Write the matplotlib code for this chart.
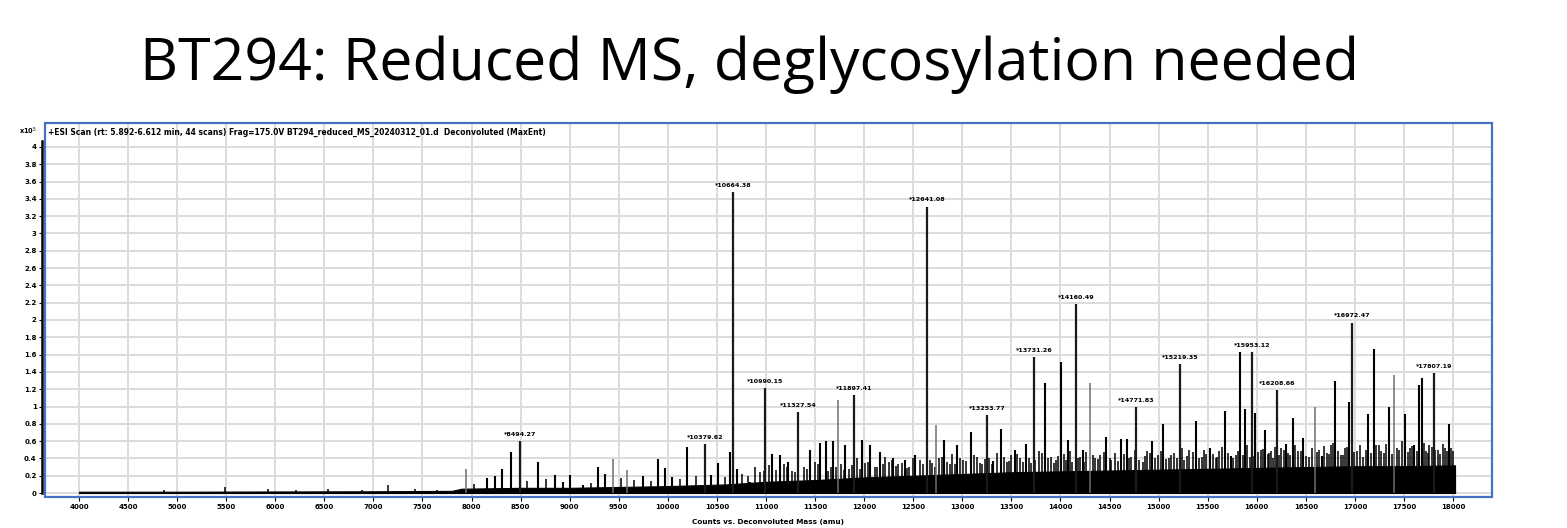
import matplotlib
matplotlib.use("Agg")
import matplotlib.pyplot as plt
from matplotlib.patches import Rectangle

# ---- data (deconvoluted mass in amu, counts x10^5) ----
label_mass = [8494.27, 10379.62, 10664.38, 10990.15, 11327.54, 11897.41, 12641.08,
              13253.77, 13731.26, 14160.49, 14771.83, 15219.35, 15953.12, 16208.66,
              16972.47, 17807.19]
label_int = [0.60, 0.57, 3.48, 1.21, 0.94, 1.13, 3.31,
             0.90, 1.57, 2.18, 0.99, 1.49, 1.63, 1.19,
             1.97, 1.39]

peak_mass = [8158, 8239, 8310, 8402, 8677, 8850, 8932, 9003, 9136, 9289, 9360, 9747,
             9900, 9971, 10043, 10196, 10440, 10511, 10634, 10705, 10837, 11062, 11143,
             11225, 11449, 11551, 11612, 11683, 11805, 11979, 12060, 12162, 12295, 12417,
             12519, 12814, 12947, 13090, 13314, 13395, 13538, 13650, 13844, 14007, 14078,
             14231, 14465, 14618, 14679, 14934, 15046, 15382, 15525, 15678, 15739, 15831,
             15882, 15983, 16085, 16299, 16371, 16473, 16666, 16799, 16941, 17135, 17196,
             17349, 17512, 17604, 17655, 17685, 17960]
peak_int = [0.17, 0.20, 0.28, 0.47, 0.36, 0.21, 0.13, 0.21, 0.09, 0.30, 0.22, 0.20,
            0.39, 0.29, 0.18, 0.53, 0.21, 0.35, 0.47, 0.28, 0.13, 0.45, 0.44,
            0.36, 0.50, 0.58, 0.60, 0.60, 0.55, 0.61, 0.55, 0.47, 0.40, 0.38,
            0.44, 0.61, 0.55, 0.71, 0.37, 0.74, 0.50, 0.57, 1.27, 1.51, 0.61,
            0.50, 0.65, 0.62, 0.62, 0.60, 0.80, 0.83, 0.52, 0.95, 0.43, 1.63,
            0.97, 0.92, 0.73, 0.57, 0.87, 0.64, 0.43, 1.29, 1.05, 0.91, 1.66,
            0.99, 0.91, 0.55, 1.25, 1.33, 0.80]

# thinner, lighter sticks
light_mass = [7944, 9441, 9584, 11734, 12733, 14302, 16595, 17400]
light_int = [0.28, 0.39, 0.27, 1.08, 0.79, 1.27, 0.99, 1.36]

# small sticks in the noise forest
minor_mass = [5488, 5926, 6537, 7149, 4870, 6210, 6880, 7420, 7650,
              8020, 8560, 8760, 9220, 9520, 9660, 9830, 10120, 10290, 10580,
              10760, 10890, 10940, 11030, 11100, 11180, 11270, 11390, 11500, 11660,
              11760, 11850, 11930, 12010, 12110, 12210, 12250, 12350, 12460, 12570,
              12690, 12760, 12870, 12900, 13010, 13150, 13200, 13270, 13350, 13460,
              13500, 13590, 13700, 13780, 13900, 13950, 14040, 14120, 14200, 14260,
              14350, 14400, 14520, 14560, 14720, 14840, 14880, 14990, 15110, 15160,
              15260, 15310, 15440, 15480, 15580, 15620, 15790, 15930, 16040, 16130,
              16170, 16250, 16340, 16420, 16530, 16630, 16720, 16760, 16860, 16900,
              17020, 17080, 17250, 17300, 17450, 17560, 17720, 17760, 17820, 17870,
              17920, 18000]
minor_int = [0.07, 0.05, 0.05, 0.09, 0.03, 0.04, 0.04, 0.05, 0.04,
             0.10, 0.14, 0.16, 0.12, 0.17, 0.15, 0.14, 0.16, 0.20, 0.18,
             0.22, 0.30, 0.24, 0.32, 0.27, 0.34, 0.25, 0.30, 0.36, 0.30,
             0.33, 0.28, 0.40, 0.35, 0.30, 0.42, 0.36, 0.33, 0.30, 0.38,
             0.35, 0.40, 0.33, 0.45, 0.38, 0.42, 0.34, 0.40, 0.46, 0.36,
             0.44, 0.40, 0.35, 0.48, 0.42, 0.38, 0.45, 0.36, 0.42, 0.47,
             0.40, 0.44, 0.38, 0.46, 0.42, 0.36, 0.48, 0.44, 0.40, 0.46,
             0.38, 0.50, 0.42, 0.45, 0.40, 0.48, 0.44, 0.42, 0.50, 0.46,
             0.40, 0.52, 0.44, 0.48, 0.42, 0.50, 0.46, 0.55, 0.44, 0.52,
             0.48, 0.42, 0.55, 0.46, 0.50, 0.52, 0.48, 0.56, 0.50, 0.45,
             0.52, 0.48]

forest_mass = [10820, 10980, 11060, 11210, 11300, 11420, 11530, 11630, 11710, 11790,
               11880, 11960, 12040, 12130, 12190, 12280, 12320, 12390, 12440, 12500,
               12600, 12670, 12720, 12790, 12840, 12930, 12980, 13040, 13120, 13180,
               13230, 13300, 13420, 13480, 13560, 13620, 13680, 13740, 13810, 13870,
               13930, 13980, 14060, 14100, 14180, 14240, 14330, 14380, 14440, 14500,
               14590, 14650, 14700, 14760, 14800, 14860, 14910, 14960, 15020, 15080,
               15130, 15190, 15240, 15290, 15350, 15410, 15460, 15550, 15600, 15650,
               15710, 15760, 15810, 15860, 15900, 15960, 16010, 16060, 16110, 16150,
               16190, 16230, 16280, 16320, 16390, 16450, 16500, 16560, 16610, 16690,
               16740, 16780, 16830, 16880, 16920, 16990, 17050, 17110, 17160, 17220,
               17270, 17320, 17380, 17430, 17480, 17540, 17580, 17630, 17700, 17740,
               17790, 17850, 17900, 17940, 17980]
forest_int = [0.20, 0.26, 0.22, 0.30, 0.24, 0.28, 0.33, 0.26, 0.30, 0.27,
              0.32, 0.28, 0.36, 0.30, 0.34, 0.38, 0.31, 0.35, 0.29, 0.40,
              0.34, 0.38, 0.30, 0.42, 0.36, 0.33, 0.40, 0.37, 0.44, 0.35,
              0.39, 0.33, 0.42, 0.37, 0.45, 0.36, 0.41, 0.38, 0.46, 0.40,
              0.35, 0.43, 0.38, 0.48, 0.40, 0.36, 0.44, 0.39, 0.47, 0.41,
              0.37, 0.45, 0.40, 0.50, 0.38, 0.43, 0.46, 0.41, 0.49, 0.39,
              0.44, 0.40, 0.52, 0.43, 0.47, 0.41, 0.50, 0.45, 0.42, 0.53,
              0.46, 0.41, 0.49, 0.44, 0.55, 0.43, 0.47, 0.51, 0.45, 0.48,
              0.53, 0.44, 0.50, 0.46, 0.56, 0.48, 0.43, 0.52, 0.47, 0.54,
              0.45, 0.58, 0.49, 0.44, 0.53, 0.47, 0.56, 0.50, 0.46, 0.55,
              0.48, 0.57, 0.45, 0.52, 0.60, 0.47, 0.54, 0.49, 0.58, 0.46,
              0.53, 0.50, 0.57, 0.48, 0.52]

# noise floor envelope
env_mass = [4000, 5000, 6000, 7000, 7800, 7900, 8500, 9000, 9500, 10000, 10600,
            11000, 11500, 12000, 12500, 13000, 13500, 14000, 14500, 15000, 15500,
            16000, 16500, 17000, 17500, 18020, 18021]
env_int = [0.015, 0.015, 0.018, 0.02, 0.025, 0.05, 0.06, 0.06, 0.07, 0.08, 0.10,
           0.13, 0.15, 0.18, 0.20, 0.22, 0.24, 0.25, 0.26, 0.27, 0.28,
           0.29, 0.30, 0.31, 0.31, 0.32, 0.0]

x_ticks = list(range(4000, 18001, 500))
y_ticks = [i / 5 for i in range(21)]

title = "BT294: Reduced MS, deglycosylation needed"
header = ("+ESI Scan (rt: 5.892-6.612 min, 44 scans) Frag=175.0V "
          "BT294_reduced_MS_20240312_01.d  Deconvoluted (MaxEnt)")

W, H = 1567, 528
fig = plt.figure(figsize=(W / 100, H / 100), dpi=100)
fig.patch.set_facecolor("white")

fig.text(750 / W, 1 - 80 / H, title, ha="center", va="baseline",
         fontsize=42.5, family="Open Sans", color="black")

ax = fig.add_axes([45 / W, 1 - 497 / H, (1492 - 45) / W, (497 - 123) / H])
# spine position first: it resets the tick objects
for s in ["top", "right", "bottom"]:
    ax.spines[s].set_visible(False)
ax.spines["left"].set_position(("outward", 2))
ax.spines["left"].set_color("black")
ax.spines["left"].set_linewidth(1.8)

ax.set_xlim(3654, 18397)
ax.set_ylim(-0.046, 4.277)
ax.spines["left"].set_bounds(0, 4.07)

ax.fill_between(env_mass, 0, env_int, color="black", lw=0.8, zorder=3)
ax.vlines(minor_mass, 0, minor_int, color="black", lw=1.1, zorder=3)
ax.vlines(forest_mass, 0, forest_int, color="black", lw=1.1, zorder=3)
ax.vlines(light_mass, 0, light_int, color="#6e6e6e", lw=1.1, zorder=3)
ax.vlines(peak_mass, 0, peak_int, color="black", lw=1.5, zorder=4)
ax.vlines(label_mass, 0, label_int, color="#1a1a1a", lw=1.6, zorder=4)
for m, h in zip(label_mass, label_int):
    ax.annotate(f"*{m:.2f}", (m, h), xytext=(0, 3), textcoords="offset points",
                ha="center", va="bottom", fontsize=4.6, fontweight="bold", zorder=5)

ax.set_xticks(x_ticks)
ax.set_xticklabels([str(t) for t in x_ticks])
ax.set_yticks(y_ticks)
ax.set_yticklabels([f"{t:g}" for t in y_ticks])
ax.tick_params(axis="both", labelsize=5.0)
for lab in ax.get_xticklabels() + ax.get_yticklabels():
    lab.set_fontweight("bold")
ax.grid(True, color="#dcdcdc", lw=1.4)
ax.set_axisbelow(True)
ax.tick_params(axis="x", length=3, width=0.8, pad=2)
ax.tick_params(axis="y", length=2, width=0.8, pad=2)

ax.text(0.002, 0.975, header, transform=ax.transAxes, ha="left", va="center",
        fontsize=5.5, fontweight="bold")
fig.text(37 / W, 1 - 131 / H, "x10$^{5}$", ha="right", va="center",
         fontsize=4.8, fontweight="bold")
fig.text(768 / W, 1 - 522 / H, "Counts vs. Deconvoluted Mass (amu)", ha="center",
         va="center", fontsize=5.2, fontweight="bold")

fig.patches.append(Rectangle((45 / W, 1 - 497 / H), (1492 - 45) / W, (497 - 123) / H,
                             transform=fig.transFigure, fill=False,
                             edgecolor="#4472c4", lw=1.6, zorder=10))

fig.savefig("out.png", dpi=100)
